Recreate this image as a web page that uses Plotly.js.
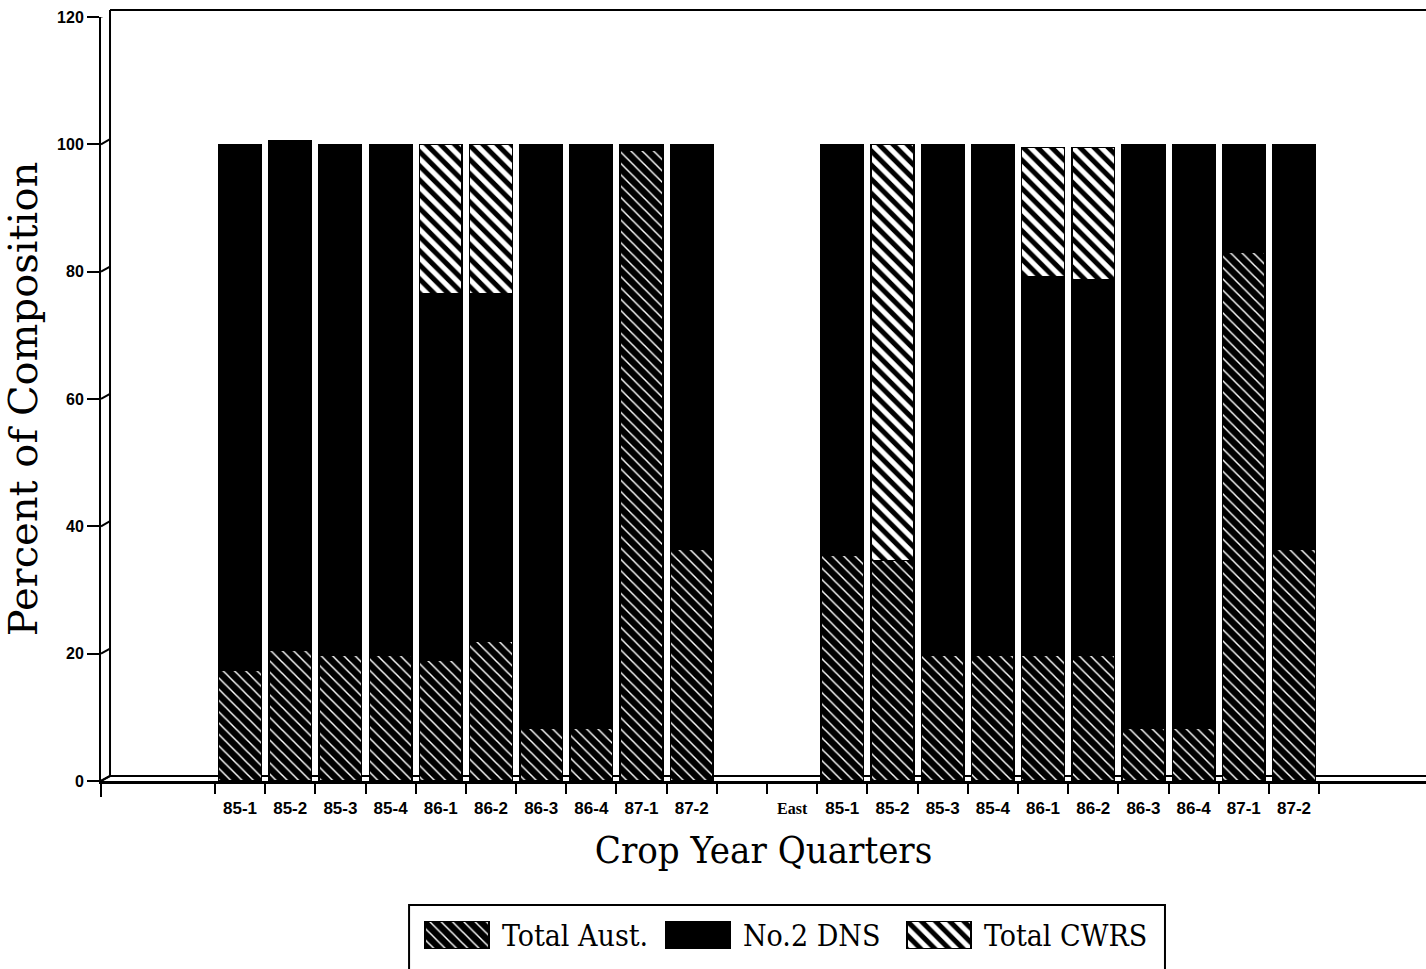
<!DOCTYPE html>
<html>
<head>
<meta charset="utf-8">
<script src="https://cdn.plot.ly/plotly-3.0.1.min.js"></script>
<style>
  html, body { margin: 0; padding: 0; background: #fff; }
  #chart { width: 1426px; height: 969px; }
</style>
</head>
<body>
<div id="chart"></div>
<script>
// Crop year quarters (same quarters for both regions)
const quarters = ['85-1', '85-2', '85-3', '85-4', '86-1', '86-2', '86-3', '86-4', '87-1', '87-2'];
const regionLabel = 'East';

// Percent of composition, first region
const westAust = [17.4, 20.5, 19.7, 19.7, 19.0, 22.0, 8.3, 8.3, 99.0, 36.4];
const westDNS  = [82.6, 80.0, 80.3, 80.3, 57.6, 54.6, 91.7, 91.7, 1.0, 63.6];
const westCWRS = [0, 0, 0, 0, 23.4, 23.4, 0, 0, 0, 0];

// Percent of composition, East
const eastAust = [35.4, 34.6, 19.7, 19.7, 19.7, 19.7, 8.3, 8.3, 83.0, 36.4];
const eastDNS  = [64.6, 0, 80.3, 80.3, 59.5, 59.1, 91.7, 91.7, 17.0, 63.6];
const eastCWRS = [0, 65.4, 0, 0, 20.3, 20.7, 0, 0, 0, 0];

const seriesNames = ['Total Aust.', 'No.2 DNS', 'Total CWRS'];
const yTicks = [0, 20, 40, 60, 80, 100, 120];

// Slot layout along the category axis: first region, one empty slot, region label, East
const eastOffset = quarters.length + 2;
const westX = quarters.map((_, i) => i);
const eastX = quarters.map((_, i) => i + eastOffset);
const labelX = quarters.length + 1;

const barX = westX.concat(eastX);
const tickVals = westX.concat([labelX], eastX);
const tickText = quarters.concat(['<span style="font-family:\'Liberation Serif\', serif;font-weight:bold;font-size:16px">' + regionLabel + '</span>'], quarters);
const lastSlot = eastX[eastX.length - 1];
const boundaryTicks = [];
for (let v = -0.5; v <= lastSlot + 0.5; v += 1) boundaryTicks.push(v);

// Fill styles for the three series
const fills = [
  { color: 'black', line: { color: 'black', width: 1.5 },
    pattern: { shape: '\\', bgcolor: 'black', fgcolor: 'white', size: 8, solidity: 0.18, fillmode: 'replace' } },
  { color: 'black', line: { color: 'black', width: 1.5 } },
  { color: 'white', line: { color: 'black', width: 1.5 },
    pattern: { shape: '\\', bgcolor: 'white', fgcolor: 'black', size: 10, solidity: 0.5, fillmode: 'replace' } }
];

const seriesValues = [
  westAust.concat(eastAust),
  westDNS.concat(eastDNS),
  westCWRS.concat(eastCWRS)
];

const traces = seriesNames.map((name, k) => ({
  type: 'bar',
  name: name,
  x: barX,
  y: seriesValues[k],
  width: 0.85,
  marker: fills[k],
  hoverinfo: 'x+y+name',
  showlegend: false
}));

// Key swatches: one bar per series on a small helper axis below the chart
seriesNames.forEach((name, k) => {
  traces.push({
    type: 'bar',
    name: name,
    x: [k],
    y: [1],
    width: 0.266,
    marker: fills[k],
    xaxis: 'x2',
    yaxis: 'y2',
    hoverinfo: 'skip',
    showlegend: false
  });
});

const serif = "'DejaVu Serif Condensed', 'DejaVu Serif', 'Liberation Serif', serif";
const sans = "'Liberation Sans', Arial, sans-serif";

const annotations = seriesNames.map((name, k) => ({
  xref: 'x2', yref: 'y2',
  x: k + 0.178, y: 0.5,
  xanchor: 'left', yanchor: 'middle',
  text: name,
  showarrow: false,
  font: { family: serif, size: 30, color: 'black' }
}));

// 3-D frame: floor back edge, back wall and the slanted tick connectors
const depthX = 0.0068;
const floorY = 0.2027;
const topY = 1.0074;
const shapes = [
  { type: 'line', xref: 'paper', yref: 'paper', x0: depthX, x1: 1, y0: floorY, y1: floorY,
    line: { color: 'black', width: 2 }, layer: 'below' },
  { type: 'line', xref: 'paper', yref: 'paper', x0: depthX, x1: depthX, y0: floorY, y1: topY,
    line: { color: 'black', width: 2 } },
  { type: 'line', xref: 'paper', yref: 'paper', x0: depthX, x1: 1, y0: topY, y1: topY,
    line: { color: 'black', width: 2 } },
  { type: 'line', xref: 'paper', yref: 'paper', x0: 0, x1: depthX, y0: 0.1975, y1: floorY,
    line: { color: 'black', width: 2 } },
  { type: 'line', xref: 'paper', yref: 'paper', x0: 0, x1: 0, y0: 0.1807, y1: 0.1975,
    line: { color: 'black', width: 2 } },
  { type: 'rect', xref: 'paper', yref: 'paper', x0: 0.2325, x1: 0.803, y0: -0.03, y1: 0.0672,
    line: { color: 'black', width: 2 }, fillcolor: 'rgba(0,0,0,0)' }
];
yTicks.forEach(t => {
  shapes.push({ type: 'line', xref: 'paper', yref: 'y', x0: 0, x1: depthX, y0: t, y1: t + 0.8,
    line: { color: 'black', width: 2 } });
});

const layout = {
  width: 1426,
  height: 969,
  margin: { l: 101, r: 0, t: 17, b: 0 },
  paper_bgcolor: 'white',
  plot_bgcolor: 'white',
  barmode: 'stack',
  showlegend: false,
  xaxis: {
    domain: [0, 1],
    anchor: 'y',
    range: [-2.77, 23.63],
    tickmode: 'array',
    tickvals: tickVals,
    ticktext: tickText,
    ticks: 'outside',
    ticklen: 10,
    tickcolor: 'rgba(0,0,0,0)',
    minor: {
      tickmode: 'array',
      tickvals: boundaryTicks,
      ticks: 'outside',
      ticklen: 10,
      tickwidth: 2,
      tickcolor: 'black',
      showgrid: false
    },
    showline: true,
    linecolor: 'black',
    linewidth: 3,
    showgrid: false,
    zeroline: false,
    tickfont: { family: sans, size: 17, color: 'black', weight: 'bold' },
    title: { text: 'Crop Year Quarters', font: { family: serif, size: 38, color: 'black' }, standoff: 20 }
  },
  yaxis: {
    domain: [0.1975, 1],
    anchor: 'x',
    range: [0, 120],
    tickmode: 'array',
    tickvals: yTicks,
    ticks: 'outside',
    ticklen: 12,
    tickwidth: 2,
    tickcolor: 'black',
    showline: true,
    linecolor: 'black',
    linewidth: 2,
    showgrid: false,
    zeroline: false,
    tickfont: { family: sans, size: 16, color: 'black', weight: 'bold' },
    title: { text: 'Percent of Composition',
      font: { family: "'DejaVu Serif', 'Liberation Serif', serif", size: 40, color: 'black' }, standoff: 14 }
  },
  xaxis2: { domain: [0, 1], anchor: 'y2', range: [-1.477, 4.021], visible: false, fixedrange: true },
  yaxis2: { domain: [0.021, 0.0504], anchor: 'x2', range: [0, 1], visible: false, fixedrange: true },
  annotations: annotations,
  shapes: shapes
};

Plotly.newPlot('chart', traces, layout, { displayModeBar: false, responsive: false });
</script>
</body>
</html>
